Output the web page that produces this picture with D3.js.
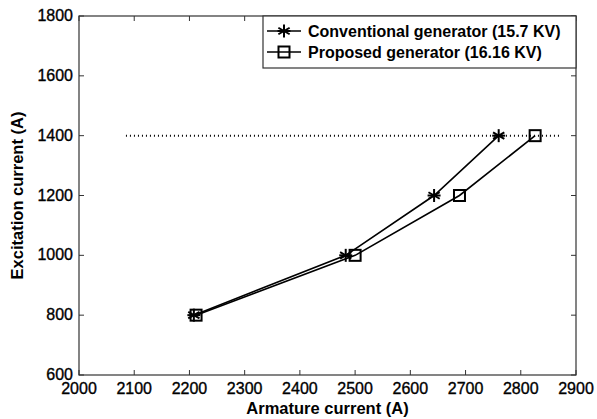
<!DOCTYPE html>
<html><head><meta charset="utf-8">
<script src="https://cdn.jsdelivr.net/npm/d3@7"></script>
<style>body{margin:0;background:#fff}svg{display:block}text{font-family:"Liberation Sans",Arial,sans-serif;}</style>
</head><body>
<svg id="c" width="597" height="419"></svg>
<script>
const excitation = [800, 1000, 1200, 1400];
const conventional = [2208, 2483, 2643, 2760];
const proposed = [2212, 2500, 2689, 2826];
const refLineX = [2085, 2870];
const refLineY = 1400;
const xTicks = [2000,2100,2200,2300,2400,2500,2600,2700,2800,2900];
const yTicks = [600,800,1000,1200,1400,1600,1800];
const seriesNames = ["Conventional generator (15.7 KV)", "Proposed generator (16.16 KV)"];

const svg = d3.select("#c");
const L=79, R=576, T=16, B=375;
const x = d3.scaleLinear().domain([2000,2900]).range([L,R]);
const y = d3.scaleLinear().domain([600,1800]).range([B,T]);
const tl = 5;
const fs = 16;

svg.append("rect").attr("x",L).attr("y",T).attr("width",R-L).attr("height",B-T)
  .attr("fill","none").attr("stroke","#333").attr("stroke-width",1.2);

const g = svg.append("g").attr("stroke","#333").attr("stroke-width",1);
xTicks.forEach(v=>{
  g.append("line").attr("x1",x(v)).attr("x2",x(v)).attr("y1",B).attr("y2",B-tl);
  g.append("line").attr("x1",x(v)).attr("x2",x(v)).attr("y1",T).attr("y2",T+tl);
});
yTicks.forEach(v=>{
  g.append("line").attr("y1",y(v)).attr("y2",y(v)).attr("x1",L).attr("x2",L+tl);
  g.append("line").attr("y1",y(v)).attr("y2",y(v)).attr("x1",R).attr("x2",R-tl);
});
svg.append("g").selectAll("text").data(xTicks).join("text")
  .attr("x",d=>x(d)).attr("y",B+19).attr("text-anchor","middle").attr("font-size",fs)
  .attr("stroke","#000").attr("stroke-width",0.35).text(d=>d);
svg.append("g").selectAll("text").data(yTicks).join("text")
  .attr("x",L-6).attr("y",d=>y(d)+5).attr("text-anchor","end").attr("font-size",fs)
  .attr("stroke","#000").attr("stroke-width",0.35).text(d=>d);

svg.append("text").attr("x",(L+R)/2).attr("y",414).attr("text-anchor","middle")
  .attr("font-size",16.5).attr("font-weight","bold").text("Armature current (A)");
svg.append("text").attr("transform",`translate(23,${(T+B)/2}) rotate(-90)`).attr("text-anchor","middle")
  .attr("font-size",16.5).attr("font-weight","bold").text("Excitation current (A)");

svg.append("line").attr("x1",x(refLineX[0])).attr("x2",x(refLineX[1]))
  .attr("y1",y(refLineY)).attr("y2",y(refLineY))
  .attr("stroke","#000").attr("stroke-width",2).attr("stroke-dasharray","1,3");

const line = d3.line();
const convPts = excitation.map((e,i)=>[x(conventional[i]), y(e)]);
const propPts = excitation.map((e,i)=>[x(proposed[i]), y(e)]);
svg.append("path").attr("d",line(convPts)).attr("fill","none").attr("stroke","#000").attr("stroke-width",1.6);
svg.append("path").attr("d",line(propPts)).attr("fill","none").attr("stroke","#000").attr("stroke-width",1.6);

function star(sel, cx, cy, r){
  const gg = sel.append("g").attr("stroke","#000").attr("stroke-width",2);
  [0,60,120].forEach(a=>{
    const rad=a*Math.PI/180;
    gg.append("line").attr("x1",cx-r*Math.sin(rad)).attr("y1",cy-r*Math.cos(rad))
      .attr("x2",cx+r*Math.sin(rad)).attr("y2",cy+r*Math.cos(rad));
  });
  gg.append("line").attr("x1",cx-r).attr("x2",cx+r).attr("y1",cy).attr("y2",cy);
}
function square(sel, cx, cy, h){
  sel.append("rect").attr("x",cx-h).attr("y",cy-h).attr("width",2*h).attr("height",2*h)
    .attr("fill","none").attr("stroke","#000").attr("stroke-width",2);
}
convPts.forEach(p=>star(svg,p[0],p[1],6.5));
propPts.forEach(p=>square(svg,p[0],p[1],5.5));

const lg = svg.append("g");
lg.append("rect").attr("x",263).attr("y",T).attr("width",R-263).attr("height",52)
  .attr("fill","#fff").attr("stroke","#333").attr("stroke-width",1.2);
const ly=[31,52];
ly.forEach((yy,i)=>{
  lg.append("line").attr("x1",267).attr("x2",301).attr("y1",yy).attr("y2",yy).attr("stroke","#000").attr("stroke-width",1.6);
  if(i===0) star(lg,284,yy,6.5); else square(lg,284,yy,5.5);
  lg.append("text").attr("x",308).attr("y",yy+6).attr("font-size",16).attr("font-weight","bold").text(seriesNames[i]);
});
</script>
</body></html>
